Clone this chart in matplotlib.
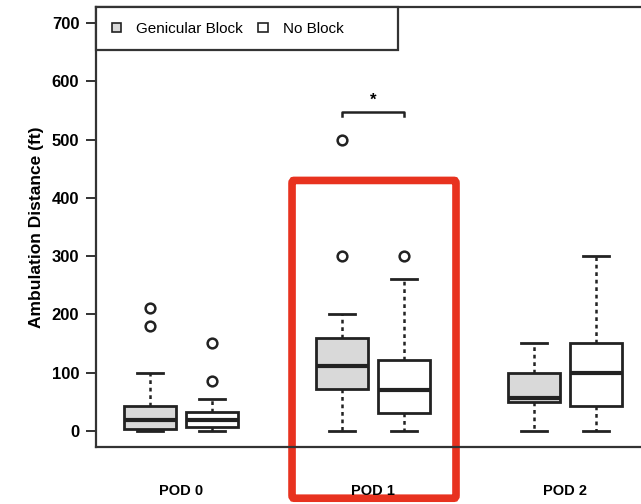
import matplotlib
matplotlib.use("Agg")
import matplotlib.pyplot as plt
from matplotlib.patches import Patch, FancyBboxPatch, Rectangle

plt.rcParams['font.family'] = ['Liberation Sans', 'DejaVu Sans']

groups = ["POD 0", "POD 1", "POD 2"]
series = ["Genicular Block", "No Block"]
# box stats per group: [whislo, q1, med, q3, whishi]
genicular = [[0, 3, 18, 43, 100], [0, 72, 112, 160, 200], [0, 49, 56, 100, 150]]
noblock = [[0, 6, 18, 32, 55], [0, 30, 70, 122, 260], [0, 42, 100, 150, 300]]
genicular_fliers = [[180, 210], [300, 500], []]
noblock_fliers = [[85, 150], [300], []]
sig_label = "*"
sig_height = 547
yticks = [0, 100, 200, 300, 400, 500, 600, 700]

fill_colors = ["#d9d9d9", "white"]
edge = "#222222"

W, H = 641, 504
ax_l, ax_r, ax_t, ax_b = 96, 700, 7, 447
fig = plt.figure(figsize=(W / 100, H / 100), dpi=100)
ax = fig.add_axes([ax_l / W, 1 - ax_b / H, (ax_r - ax_l) / W, (ax_b - ax_t) / H])

def make_stats(vals, fliers):
    out = []
    for v, f in zip(vals, fliers):
        out.append(dict(whislo=v[0], q1=v[1], med=v[2], q3=v[3], whishi=v[4], fliers=f))
    return out

offset = 0.161
width = 0.27
positions_g = [i + 1 - offset for i in range(len(groups))]
positions_n = [i + 1 + offset for i in range(len(groups))]

for stats, pos, fc in [(make_stats(genicular, genicular_fliers), positions_g, fill_colors[0]),
                       (make_stats(noblock, noblock_fliers), positions_n, fill_colors[1])]:
    ax.bxp(stats, positions=pos, widths=width, patch_artist=True, showfliers=True,
           boxprops=dict(facecolor=fc, edgecolor=edge, linewidth=2.0),
           medianprops=dict(color=edge, linewidth=3.0),
           whiskerprops=dict(color=edge, linewidth=1.8, linestyle=(0, (1.5, 1.5))),
           capprops=dict(color=edge, linewidth=2.0),
           capwidths=width * 0.5,
           flierprops=dict(marker='o', markerfacecolor='white', markeredgecolor=edge,
                           markersize=7, markeredgewidth=1.8),
           manage_ticks=False)

ax.set_xlim(0.557, 0.557 + (ax_r - ax_l) / 192)
ax.set_ylim(-28, 728)
ax.set_yticks(yticks)
ax.set_yticklabels([str(t) for t in yticks], fontsize=12, fontweight='bold')
ax.tick_params(axis='y', direction='out', length=7, width=1.3, pad=5, color=edge)
ax.set_xticks([])
for s in ax.spines.values():
    s.set_linewidth(1.6)
    s.set_color("#333333")
ax.set_ylabel("Ambulation Distance (ft)", fontsize=12.5, fontweight='bold', labelpad=6)

for i, g in enumerate(groups):
    ax.text(i + 1, -0.10, g, transform=ax.get_xaxis_transform(), ha='center', va='center',
            fontsize=10.5, fontweight='bold')

# significance bracket for POD 1
x0, x1 = positions_g[1], positions_n[1]
ax.plot([x0, x0, x1, x1], [sig_height - 6, sig_height, sig_height, sig_height - 6],
        color=edge, linewidth=1.8)
ax.text((x0 + x1) / 2, sig_height + 8, sig_label, ha='center', va='bottom', fontsize=12,
        fontweight='bold')

# legend (R-style wide frame)
aw, ah = ax_r - ax_l, ax_b - ax_t
frame = Rectangle((0, (ax_b - 50) / ah), (398 - ax_l) / aw, 1 - (ax_b - 50) / ah,
                  transform=ax.transAxes, fill=True, facecolor='white',
                  edgecolor="#333333", linewidth=1.6, zorder=4, clip_on=False)
ax.add_patch(frame)
handles = [Patch(facecolor=fill_colors[0], edgecolor=edge, linewidth=1.2),
           Patch(facecolor=fill_colors[1], edgecolor=edge, linewidth=1.2)]
leg = ax.legend(handles, series, loc='center left',
                bbox_to_anchor=((112 - ax_l) / aw, (ax_b - 29) / ah),
                ncol=2, frameon=False, borderaxespad=0, borderpad=0, fontsize=11,
                handlelength=0.6, handleheight=0.6, handletextpad=1.0, columnspacing=1.0)
leg.set_zorder(5)

# red highlight box around POD 1
rect = FancyBboxPatch((1.578, -116), 2.432 - 1.578, 430 + 116,
                      boxstyle="round,pad=0,rounding_size=0.01",
                      fill=False, edgecolor="#e8321f", linewidth=5.5, clip_on=False,
                      mutation_aspect=500)
ax.add_patch(rect)

fig.savefig("out.png", dpi=100)
